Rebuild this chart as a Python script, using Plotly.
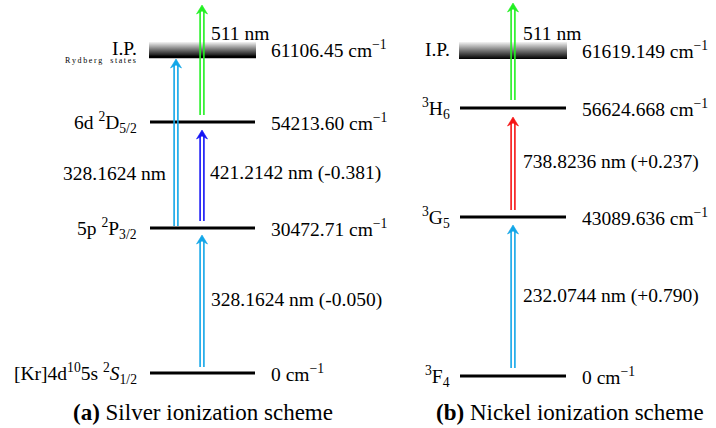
import plotly.graph_objects as go

# ---------------- data ----------------
ag_states = ["[Kr]4d<sup>10</sup>5s <sup>2</sup><i>S</i><sub>1/2</sub>",
             "5p <sup>2</sup>P<sub>3/2</sub>",
             "6d <sup>2</sup>D<sub>5/2</sub>",
             "I.P."]
ag_energy = ["0", "30472.71", "54213.60", "61106.45"]
ag_from = [0, 1, 1, 2]
ag_to = [1, 3, 2, 4]          # 4 = continuum above the I.P.
ag_wavelength = ["328.1624 nm", "328.1624 nm", "421.2142 nm", "511 nm"]
ag_shift = ["-0.050", "", "-0.381", ""]
ag_color = ["#12A6E8", "#12A6E8", "#1414F5", "#22F022"]

ni_states = ["<sup>3</sup>F<sub>4</sub>",
             "<sup>3</sup>G<sub>5</sub>",
             "<sup>3</sup>H<sub>6</sub>",
             "I.P."]
ni_energy = ["0", "43089.636", "56624.668", "61619.149"]
ni_from = [0, 1, 2]
ni_to = [1, 2, 4]
ni_wavelength = ["232.0744 nm", "738.8236 nm", "511 nm"]
ni_shift = ["+0.790", "+0.237", ""]
ni_color = ["#12A6E8", "#F51414", "#22F022"]

captions = ["<b>(a)</b> Silver ionization scheme", "<b>(b)</b> Nickel ionization scheme"]

# ---------------- layout of the schematic (diagram units) ----------------
panels = [
    dict(yref="y", states=ag_states, energy=ag_energy, frm=ag_from, to=ag_to,
         wl=ag_wavelength, shift=ag_shift, color=ag_color,
         heights=[0, 145, 251, 316, 368], band=15, band_line=True,
         x0=150, x1=255, name_x=139, energy_x=269,
         arrow_x=[202, 176, 202, 202], gap0=[6, 2, 7, 7], gap1=[7, 2, 8, 0],
         label_side=["r", "l", "r", "r"], label_x=[209, 168, 208, 209],
         label_h=[73, 200, 200, 340], cap_x=203, cap_h=-39,
         ryd=True),
    dict(yref="y2", states=ni_states, energy=ni_energy, frm=ni_from, to=ni_to,
         wl=ni_wavelength, shift=ni_shift, color=ni_color,
         heights=[0, 159, 268, 317, 373], band=17, band_line=False,
         x0=460, x1=566, name_x=452, energy_x=580,
         arrow_x=[513, 513, 513], gap0=[8, 7, 8], gap1=[8, 9, 0],
         label_side=["r", "r", "r"], label_x=[521, 521, 521],
         label_h=[80, 214, 343], cap_x=570, cap_h=-36,
         ryd=False),
]

FONT = "Liberation Serif"
FS = 19.5

fig = go.Figure()
ann = []


def add_arrow(x, h0, h1, color, yaxis):
    head_len, notch, half_w, off = 9, 3, 5.5, 1.9
    base = h1 - head_len + notch
    for dx in (-off, off):
        fig.add_trace(go.Scatter(x=[x + dx, x + dx], y=[h0, base + 0.5], mode="lines",
                                 line=dict(color=color, width=1.6), yaxis=yaxis,
                                 hoverinfo="skip", showlegend=False))
    fig.add_trace(go.Scatter(x=[x, x - half_w, x, x + half_w, x],
                             y=[h1, h1 - head_len, base, h1 - head_len, h1],
                             mode="lines", fill="toself", fillcolor=color,
                             line=dict(color=color, width=0.6), yaxis=yaxis,
                             hoverinfo="skip", showlegend=False))


for p in panels:
    ya = p["yref"]
    hs = p["heights"]
    # I.P. gradient band
    hip = hs[3]
    fig.add_trace(go.Scatter(
        x=[p["x0"] - 1, p["x1"] + 1, p["x1"] + 1, p["x0"] - 1, p["x0"] - 1],
        y=[hip, hip, hip + p["band"], hip + p["band"], hip],
        mode="lines", line=dict(width=0), fill="toself",
        fillgradient=dict(type="vertical",
                          colorscale=[[0, "#000000"], [0.5, "#767676"], [1, "#f4f4f4"]]),
        yaxis=ya, hoverinfo="skip", showlegend=False))
    # level lines
    for i in range(3):
        fig.add_trace(go.Scatter(x=[p["x0"], p["x1"]], y=[hs[i], hs[i]], mode="lines",
                                 line=dict(color="black", width=3), yaxis=ya,
                                 hoverinfo="skip", showlegend=False))
    if p["band_line"]:
        fig.add_trace(go.Scatter(x=[p["x0"] - 1, p["x1"] + 1], y=[hip, hip], mode="lines",
                                 line=dict(color="black", width=2.5), yaxis=ya,
                                 hoverinfo="skip", showlegend=False))
    # level names and energies
    for i in range(4):
        hy = hs[i] + (p["band"] / 2 + 1 if i == 3 else 0)
        ann.append(dict(x=p["name_x"], y=hy, yref=ya, xref="x", text=p["states"][i],
                        xanchor="right", yanchor="middle", showarrow=False,
                        font=dict(family=FONT, size=FS, color="black")))
        ann.append(dict(x=p["energy_x"], y=hy, yref=ya, xref="x",
                        text=p["energy"][i] + " cm<sup>\u22121</sup>",
                        xanchor="left", yanchor="middle", showarrow=False,
                        font=dict(family=FONT, size=FS, color="black")))
    if p["ryd"]:
        ann.append(dict(x=p["name_x"] - 1, y=hip - 3, yref=ya, xref="x",
                        text="\u2009".join("Rydberg") + "\u2003" + "\u2009".join("states"),
                        xanchor="right", yanchor="middle", showarrow=False,
                        font=dict(family=FONT, size=8, color="black")))
    # transitions
    for k in range(len(p["frm"])):
        h0 = hs[p["frm"][k]] + p["gap0"][k]
        h1 = hs[p["to"][k]] - p["gap1"][k]
        add_arrow(p["arrow_x"][k], h0, h1, p["color"][k], ya)
        txt = p["wl"][k] + (f" ({p['shift'][k]})" if p["shift"][k] else "")
        ann.append(dict(x=p["label_x"][k], y=p["label_h"][k], yref=ya, xref="x", text=txt,
                        xanchor="left" if p["label_side"][k] == "r" else "right",
                        yanchor="middle", showarrow=False,
                        font=dict(family=FONT, size=FS, color="black")))

for p, c in zip(panels, captions):
    ann.append(dict(x=p["cap_x"], y=p["cap_h"], yref=p["yref"], xref="x", text=c,
                    xanchor="center", yanchor="middle", showarrow=False,
                    font=dict(family=FONT, size=23, color="black")))

fig.update_layout(
    width=716, height=428, margin=dict(l=0, r=0, t=0, b=0),
    paper_bgcolor="white", plot_bgcolor="white", showlegend=False,
    xaxis=dict(range=[0, 716], visible=False, fixedrange=True),
    yaxis=dict(range=[-55, 373], visible=False, fixedrange=True),
    yaxis2=dict(range=[-52, 376], visible=False, overlaying="y", fixedrange=True),
    annotations=ann,
)
fig.write_html("out.html")
